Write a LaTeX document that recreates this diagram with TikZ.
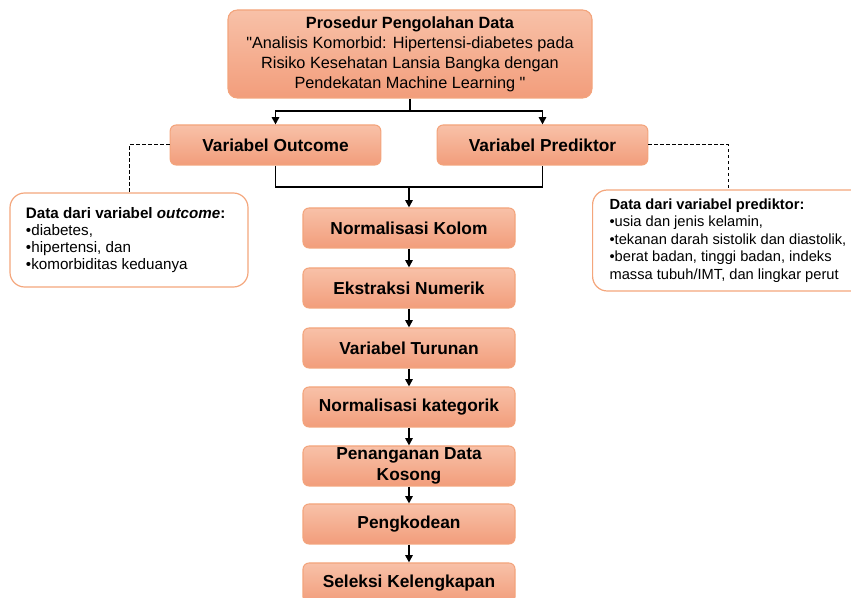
\documentclass[tikz,border=0pt]{standalone}
\usepackage{fontspec}
\setmainfont{Liberation Sans}[Ligatures=TeXOff]
\usetikzlibrary{arrows.meta}
\definecolor{boxtop}{HTML}{F8C1A8}
\definecolor{boxbot}{HTML}{F29D7B}
\definecolor{boxline}{HTML}{F3A47C}
\definecolor{infoline}{HTML}{F4A67C}

\begin{document}
\begin{tikzpicture}[x=0.75pt, y=-0.75pt,
  stage/.style={rectangle, draw=boxline, line width=0.8pt, rounded corners=4.5pt, top color=boxtop, bottom color=boxbot, minimum width=159pt, minimum height=30pt, align=center, inner sep=1pt, font=\fontsize{13}{15.5}\selectfont\bfseries},
  info/.style={rectangle, draw=infoline, line width=0.9pt, rounded corners=11pt, fill=white, align=flush left, inner xsep=12pt, inner ysep=2pt, font=\fontsize{11.4}{12.9}\selectfont},
  arrow/.style={-{Triangle[length=5.5pt, width=5.5pt]}, line width=1.3pt},
  link/.style={line width=1.3pt},
  dashline/.style={dashed, dash pattern=on 2.5pt off 2pt, line width=0.75pt}
]
\useasboundingbox (0,0) rectangle (851,598);
\clip (0,0) rectangle (851,598);

\node[stage, minimum width=273pt, minimum height=66pt, rounded corners=7pt, font=\fontsize{12.2}{15}\selectfont] (proc) at (410,54) {\textbf{Prosedur Pengolahan Data}\\"Analisis Komorbid: Hipertensi-diabetes pada\\Risiko Kesehatan Lansia Bangka dengan\\Pendekatan Machine Learning "};
\node[stage, minimum width=158pt] (outcome) at (275.5,145) {Variabel Outcome};
\node[stage, minimum width=158pt] (prediktor) at (542.5,145) {Variabel Prediktor};

\node[stage] (kolom) at (409,228) {Normalisasi Kolom};
\node[stage] (numerik) at (409,288) {Ekstraksi Numerik};
\node[stage] (turunan) at (409,348) {Variabel Turunan};
\node[stage] (kategorik) at (409,407) {Normalisasi kategorik};
\node[stage] (kosong) at (409,466) {Penanganan Data\\Kosong};
\node[stage] (kode) at (409,524) {Pengkodean};
\node[stage] (seleksi) at (409,583) {Seleksi Kelengkapan};

\node[info, minimum width=178.5pt, minimum height=70.5pt, text width=154.5pt] (outinfo) at (129,240) {\textbf{Data dari variabel \textit{outcome}:}\\•diabetes,\\•hipertensi, dan\\•komorbiditas keduanya};
\node[info, anchor=west, minimum height=75.75pt, inner xsep=12.75pt, text width=190pt, font=\fontsize{11}{13.2}\selectfont] (predinfo) at (592,240.5) {\textbf{Data dari variabel prediktor:}\\•usia dan jenis kelamin,\\•tekanan darah sistolik dan diastolik,\\•berat badan, tinggi badan, indeks\\massa tubuh/IMT, dan lingkar perut};

% branch from the top box
\coordinate (split) at (410,111);
\draw[link] (proc.south) -- (split);
\draw[arrow] (split) -| (outcome.north);
\draw[arrow] (split) -| (prediktor.north);

% merge into the processing chain
\coordinate (merge) at (409,187);
\draw[link] (outcome.south) |- (merge) -| (prediktor.south);
\draw[arrow] (merge) -- (kolom.north);

\draw[arrow] (kolom) -- (numerik);
\draw[arrow] (numerik) -- (turunan);
\draw[arrow] (turunan) -- (kategorik);
\draw[arrow] (kategorik) -- (kosong);
\draw[arrow] (kosong) -- (kode);
\draw[arrow] (kode) -- (seleksi);

% dashed notes
\draw[dashline] (outcome.west) -| (outinfo.north);
\draw[dashline] (prediktor.east) -| ([xshift=-6pt]predinfo.north);

\end{tikzpicture}
\end{document}
